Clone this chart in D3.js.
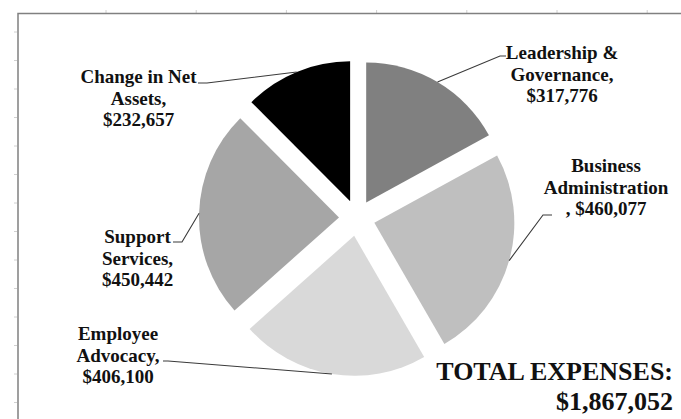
<!DOCTYPE html>
<html lang="en">
<head>
    <meta charset="UTF-8">
    <title>Expenses</title>
    <script src="https://d3js.org/d3.v7.min.js"></script>
    <style>
        body { margin: 0; background: #fff; }
        text { font-family: "Liberation Serif", "Times New Roman", serif; font-weight: bold; fill: #111; }
    </style>
</head>
<body>
    <div id="output"></div>
    <script>
        // data
        var categories = ["Leadership & Governance", "Business Administration", "Employee Advocacy", "Support Services", "Change in Net Assets"];
        var values = [317776, 460077, 406100, 450442, 232657];
        var nameLines = [["Leadership &", "Governance,"], ["Business", "Administration"], ["Employee", "Advocacy,"], ["Support", "Services,"], ["Change in Net", "Assets,"]];
        var valuePrefix = ["", ", ", "", "", ""];
        var totalLabel = "TOTAL EXPENSES:";

        var width = 681, height = 419;
        var cx = 357, cy = 218, radius = 140, explode = 18;
        var lineHeight = 21.5;

        var colors = ["#808080", "#bfbfbf", "#d9d9d9", "#a6a6a6", "#000000"];

        // label placement: text centre, first baseline, leader start and elbow
        var labelPos = [
            { x: 562, y: 59, start: [506, 56], elbow: [500, 56] },
            { x: 606, y: 172, start: [552, 215], elbow: [543, 215] },
            { x: 118, y: 340, start: [163, 361], elbow: [168, 361] },
            { x: 137.5, y: 243, start: [173, 242], elbow: [182, 242] },
            { x: 138.5, y: 83, start: [198, 83], elbow: [207, 83] }
        ];

        var data = categories.map(function(c, i) { return { name: c, value: values[i], i: i }; });
        var fmt = d3.format("$,");

        var svg = d3.select("#output").append("svg")
            .attr("width", width)
            .attr("height", height);

        // spreadsheet frame + faint grid ticks
        var gridX = d3.range(0, 7).map(function(k) { return 106 + k * 90.2; });
        var gridY = d3.range(0, 14).map(function(k) { return 32 + k * 28.5; });
        svg.selectAll(".tx").data(gridX).enter().append("line")
            .attr("x1", function(d) { return d; }).attr("x2", function(d) { return d; })
            .attr("y1", 10).attr("y2", 13)
            .attr("stroke", "#d0d0d0").attr("stroke-width", 1);
        svg.selectAll(".ty").data(gridY).enter().append("line")
            .attr("y1", function(d) { return d; }).attr("y2", function(d) { return d; })
            .attr("x1", 14).attr("x2", 17)
            .attr("stroke", "#d0d0d0").attr("stroke-width", 1);
        svg.append("path")
            .attr("d", "M18," + height + "V13.5H" + width)
            .attr("fill", "none")
            .attr("stroke", "#808080")
            .attr("stroke-width", 1.5);

        var pie = d3.pie().sort(null).value(function(d) { return d.value; });
        var arc = d3.arc().innerRadius(0).outerRadius(radius);
        var arcs = pie(data);

        function mid(d) { return (d.startAngle + d.endAngle) / 2; }
        function offset(d) {
            var a = mid(d);
            return [Math.sin(a) * explode, -Math.cos(a) * explode];
        }

        var g = svg.append("g").attr("transform", "translate(" + cx + "," + cy + ")");

        g.selectAll("path.slice")
            .data(arcs)
            .enter().append("path")
            .attr("class", "slice")
            .attr("transform", function(d) { var o = offset(d); return "translate(" + o[0] + "," + o[1] + ")"; })
            .attr("d", arc)
            .style("fill", function(d) { return colors[d.data.i]; });

        // leader lines: from label to the middle of each slice's outer edge
        svg.selectAll("path.leader")
            .data(arcs)
            .enter().append("path")
            .attr("class", "leader")
            .attr("d", function(d) {
                var p = labelPos[d.data.i];
                var o = offset(d), a = mid(d);
                var ex = cx + o[0] + Math.sin(a) * radius;
                var ey = cy + o[1] - Math.cos(a) * radius;
                return "M" + p.start + "L" + p.elbow + "L" + ex + "," + ey;
            })
            .attr("fill", "none")
            .attr("stroke", "#3a3a3a")
            .attr("stroke-width", 1.1);

        var labels = svg.selectAll("text.label")
            .data(data)
            .enter().append("text")
            .attr("class", "label")
            .attr("text-anchor", "middle")
            .style("font-size", "19px");

        labels.each(function(d) {
            var p = labelPos[d.i];
            var lines = nameLines[d.i].concat([valuePrefix[d.i] + fmt(d.value)]);
            d3.select(this).selectAll("tspan")
                .data(lines)
                .enter().append("tspan")
                .attr("x", p.x)
                .attr("y", function(l, k) { return p.y + k * lineHeight; })
                .text(function(l) { return l; });
        });

        var total = d3.sum(values);
        svg.append("text")
            .attr("text-anchor", "end")
            .style("font-size", "26px")
            .selectAll("tspan")
            .data([totalLabel, fmt(total)])
            .enter().append("tspan")
            .attr("x", 673)
            .attr("y", function(l, k) { return 380 + k * 30; })
            .text(function(l) { return l; });
    </script>
</body>
</html>
